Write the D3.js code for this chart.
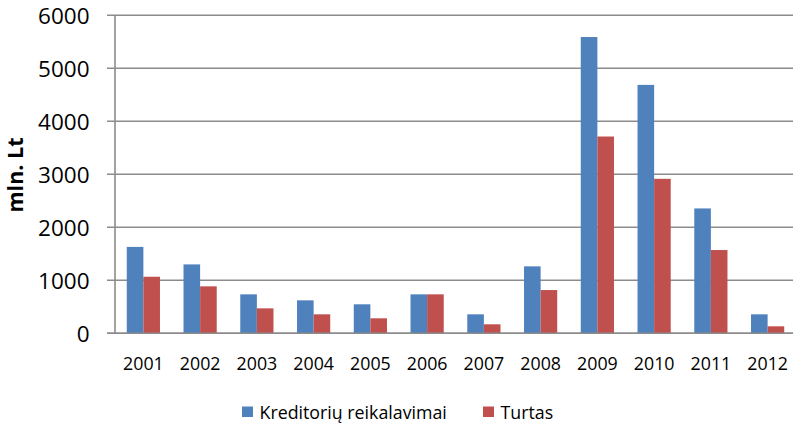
<!DOCTYPE html>
<html>
<head>
<meta charset="utf-8">
<script src="https://cdn.jsdelivr.net/npm/d3@7"></script>
<style>
  html, body { margin: 0; padding: 0; background: #fff; }
  svg { display: block; }
  text { font-family: "Open Sans", "Liberation Sans", sans-serif; fill: #000; }
</style>
</head>
<body>
<svg id="chart" width="793" height="425"></svg>
<script>
const years = ["2001","2002","2003","2004","2005","2006","2007","2008","2009","2010","2011","2012"];
const seriesNames = ["Kreditorių reikalavimai", "Turtas"];
const kreditoriu = [1630, 1300, 735, 622, 547, 735, 358, 1263, 5590, 4687, 2356, 358];
const turtas = [1067, 886, 471, 358, 283, 735, 170, 816, 3713, 2915, 1571, 132];
const yTicks = [0, 1000, 2000, 3000, 4000, 5000, 6000];
const colors = ["#4F81BD", "#C0504D"];
const yTitle = "mln. Lt";

const svg = d3.select("#chart");
const plotLeft = 115, plotRight = 796, plotTop = 15.3, plotBottom = 333.3;
const FONT = "'Open Sans', 'Liberation Sans', sans-serif";

const x = d3.scaleBand().domain(years).range([plotLeft, plotRight]).paddingInner(0).paddingOuter(0);
const y = d3.scaleLinear().domain([0, 6000]).range([plotBottom, plotTop]);
const barW = 16.6;

// gridlines
const gGrid = svg.append("g");
gGrid.selectAll("line").data(yTicks).join("line")
  .attr("x1", 107).attr("x2", 793)
  .attr("y1", d => y(d)).attr("y2", d => y(d))
  .attr("stroke", "#8c8c8c").attr("stroke-width", 1.6);

// y axis line
svg.append("line").attr("x1", plotLeft).attr("x2", plotLeft).attr("y1", plotTop).attr("y2", plotBottom)
  .attr("stroke", "#8c8c8c").attr("stroke-width", 1.6);

// y labels
const yAxis = d3.axisLeft(y).tickValues(yTicks).tickSize(0).tickPadding(0).tickFormat(d3.format("d"));
const gy = svg.append("g").attr("transform", `translate(89.5,0)`).call(yAxis);
gy.select(".domain").remove();
gy.selectAll("text").attr("font-size", 22.5).attr("dy", "0.36em").attr("x", 0)
  .attr("fill", "#000").style("font-family", FONT);

// x labels
const xAxis = d3.axisBottom(x).tickSize(0).tickPadding(0);
const gx = svg.append("g").attr("transform", `translate(0,${plotBottom})`).call(xAxis);
gx.select(".domain").remove();
gx.selectAll("text").attr("font-size", 17.8).attr("dy", null).attr("y", 36.3)
  .attr("fill", "#000").style("font-family", FONT);

// bars
const data = [kreditoriu, turtas];
data.forEach((vals, si) => {
  svg.append("g").selectAll("rect").data(vals).join("rect")
    .attr("x", (d, i) => x(years[i]) + x.bandwidth() / 2 - barW + si * barW)
    .attr("width", barW)
    .attr("y", d => y(d))
    .attr("height", d => y(0) - y(d))
    .attr("fill", colors[si]);
});

// baseline over bars
svg.append("line").attr("x1", 107).attr("x2", 793).attr("y1", plotBottom).attr("y2", plotBottom)
  .attr("stroke", "#8c8c8c").attr("stroke-width", 1.6);

// y title
svg.append("text")
  .attr("transform", `translate(23,175) rotate(-90)`)
  .attr("text-anchor", "middle")
  .attr("font-size", 21.5).attr("font-weight", "bold")
  .text(yTitle);

// legend
const legendX = [242, 483];
seriesNames.forEach((n, i) => {
  svg.append("rect").attr("x", legendX[i]).attr("y", 406.5).attr("width", 11).attr("height", 10.5).attr("fill", colors[i]);
  svg.append("text").attr("x", legendX[i] + 17.5).attr("y", 418.5).attr("font-size", 17.8).text(n);
});
</script>
</body>
</html>
